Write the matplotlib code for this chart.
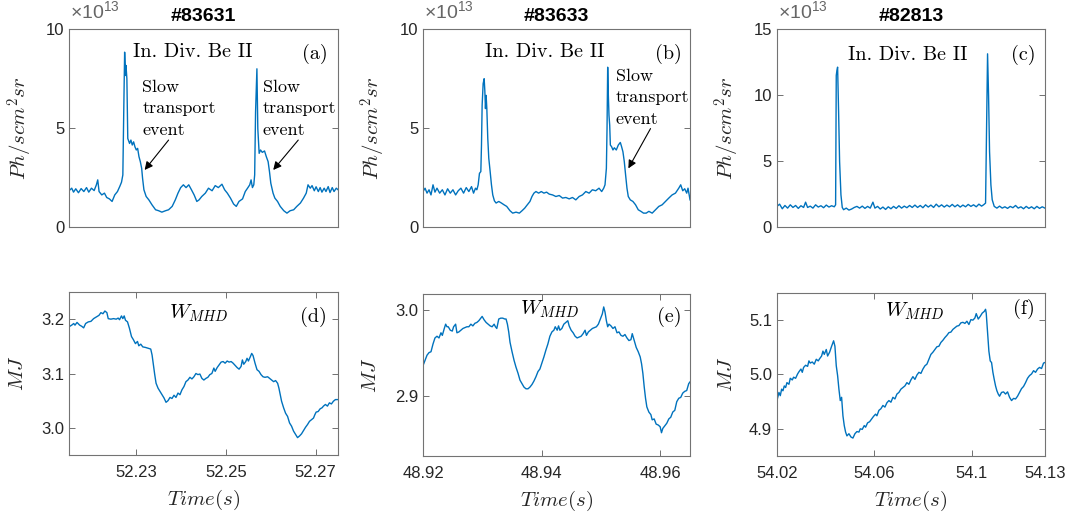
import numpy as np
import matplotlib
matplotlib.use('Agg')
import matplotlib.pyplot as plt

plt.rcParams['font.family'] = ['Liberation Sans', 'DejaVu Sans']
plt.rcParams['mathtext.fontset'] = 'cm'
plt.rcParams['mathtext.rm'] = 'Liberation Sans'
plt.rcParams['mathtext.it'] = 'Liberation Sans:italic'

BLUE = '#0072BD'
DARK = '#262626'

shots = ['#83631', '#83633', '#82813']

# ---- In. Div. Be II, units of 1e13 Ph/scm^2sr ----
t_a = [52.2150, 52.2156, 52.2160, 52.2165, 52.2171, 52.2177, 52.2183, 52.2189, 52.2194, 52.2200,
       52.2206, 52.2211, 52.2214, 52.2217, 52.2223, 52.2229, 52.2234, 52.2240, 52.2246, 52.2252,
       52.2258, 52.2263, 52.2267, 52.2270, 52.2272, 52.2274, 52.2276, 52.2277, 52.2279, 52.2281,
       52.2285, 52.2288, 52.2291, 52.2294, 52.2297, 52.2300, 52.2303, 52.2306, 52.2309, 52.2312,
       52.2314, 52.2317, 52.2322, 52.2328, 52.2335, 52.2343, 52.2350, 52.2357, 52.2365, 52.2372,
       52.2380, 52.2387, 52.2393, 52.2399, 52.2405, 52.2411, 52.2417, 52.2423, 52.2429, 52.2435,
       52.2440, 52.2446, 52.2454, 52.2461, 52.2469, 52.2476, 52.2483, 52.2491, 52.2497, 52.2503,
       52.2510, 52.2517, 52.2523, 52.2529, 52.2537, 52.2543, 52.2549, 52.2553, 52.2556, 52.2559,
       52.2562, 52.2564, 52.2566, 52.2569, 52.2571, 52.2574, 52.2577, 52.2581, 52.2586, 52.2590,
       52.2594, 52.2597, 52.2600, 52.2605, 52.2609, 52.2615, 52.2621, 52.2629, 52.2636, 52.2643,
       52.2651, 52.2658, 52.2666, 52.2673, 52.2679, 52.2683, 52.2688, 52.2692, 52.2697, 52.2701,
       52.2706, 52.2710, 52.2714, 52.2719, 52.2723, 52.2728, 52.2732, 52.2737, 52.2741, 52.2746,
       52.2750]
be_a = [1.83, 1.96, 1.76, 1.93, 1.73, 1.94, 1.79, 1.99, 1.76, 1.96,
        1.84, 2.13, 2.38, 1.79, 1.62, 1.71, 1.49, 1.42, 1.29, 1.62,
        1.79, 2.04, 2.26, 2.63, 5.81, 8.83, 7.65, 8.16, 7.49, 4.47,
        4.22, 4.39, 4.14, 4.30, 4.05, 3.89, 3.97, 3.55, 3.30, 2.96,
        2.46, 1.88, 1.54, 1.37, 1.12, 0.87, 0.82, 0.75, 0.82, 0.87,
        1.04, 1.37, 1.71, 1.99, 2.13, 1.99, 2.13, 1.88, 1.62, 1.29,
        1.37, 1.54, 1.71, 1.96, 1.83, 2.09, 1.99, 2.16, 1.88, 1.71,
        1.46, 1.16, 1.04, 1.29, 1.42, 1.79, 1.99, 2.13, 2.38, 1.99,
        2.13, 2.63, 5.81, 7.99, 4.97, 3.72, 3.89, 3.77, 3.84, 3.55,
        3.30, 2.80, 2.21, 1.71, 1.46, 1.29, 1.04, 0.82, 0.70, 0.82,
        0.87, 1.04, 1.21, 1.46, 1.71, 2.13, 1.96, 2.09, 1.83, 2.03,
        1.79, 1.99, 1.76, 1.96, 1.79, 2.04, 1.74, 1.99, 1.79, 1.96,
        1.88]

t_b = [48.92000, 48.92034, 48.92067, 48.92101, 48.92134, 48.92168, 48.92201, 48.92235, 48.92280, 48.92325,
       48.92369, 48.92414, 48.92459, 48.92504, 48.92549, 48.92593, 48.92638, 48.92683, 48.92728, 48.92772,
       48.92817, 48.92851, 48.92884, 48.92907, 48.92929, 48.92951, 48.92974, 48.92985, 48.92996, 48.93013,
       48.93030, 48.93041, 48.93052, 48.93063, 48.93075, 48.93091, 48.93108, 48.93131, 48.93153, 48.93175,
       48.93203, 48.93231, 48.93276, 48.93321, 48.93366, 48.93410, 48.93466, 48.93511, 48.93567, 48.93623,
       48.93668, 48.93713, 48.93757, 48.93802, 48.93836, 48.93869, 48.93903, 48.93948, 48.93993, 48.94037,
       48.94082, 48.94127, 48.94183, 48.94239, 48.94295, 48.94351, 48.94407, 48.94463, 48.94519, 48.94575,
       48.94631, 48.94687, 48.94743, 48.94799, 48.94854, 48.94910, 48.94966, 48.95011, 48.95045, 48.95067,
       48.95090, 48.95101, 48.95112, 48.95123, 48.95134, 48.95146, 48.95157, 48.95179, 48.95201, 48.95224,
       48.95257, 48.95291, 48.95325, 48.95347, 48.95369, 48.95392, 48.95414, 48.95437, 48.95459, 48.95493,
       48.95537, 48.95582, 48.95627, 48.95672, 48.95716, 48.95761, 48.95806, 48.95862, 48.95918, 48.95974,
       48.96030, 48.96086, 48.96142, 48.96198, 48.96254, 48.96310, 48.96343, 48.96377, 48.96410, 48.96444,
       48.96466, 48.96500]
be_b = [1.79, 1.96, 1.71, 1.88, 1.62, 2.13, 1.76, 1.96, 1.71, 1.88,
        1.62, 1.93, 1.71, 1.88, 1.62, 1.83, 1.96, 1.71, 1.99, 1.79,
        2.04, 1.71, 1.96, 1.88, 2.13, 2.71, 2.80, 4.14, 6.15, 7.24,
        7.49, 6.90, 5.98, 6.65, 5.98, 4.47, 3.47, 2.80, 2.13, 1.62,
        1.32, 1.21, 1.29, 1.21, 1.12, 1.04, 0.82, 0.70, 0.75, 0.70,
        0.82, 0.95, 1.12, 1.29, 1.54, 1.71, 1.79, 1.71, 1.79, 1.71,
        1.76, 1.66, 1.62, 1.54, 1.59, 1.46, 1.49, 1.42, 1.49, 1.37,
        1.54, 1.62, 1.79, 1.71, 1.88, 1.83, 1.96, 1.79, 1.96, 2.13,
        2.96, 4.97, 8.07, 6.65, 5.64, 5.14, 4.14, 4.05, 3.89, 4.00,
        3.89, 4.14, 4.27, 4.05, 3.80, 3.30, 2.63, 1.96, 1.54, 1.37,
        1.29, 1.12, 0.87, 0.79, 0.70, 0.70, 0.79, 0.70, 0.87, 1.04,
        1.12, 1.29, 1.46, 1.62, 1.71, 1.96, 2.13, 1.83, 1.93, 1.71,
        1.96, 1.37]

t_c = [54.02000, 54.02109, 54.02219, 54.02328, 54.02438, 54.02547, 54.02657, 54.02766, 54.02876, 54.02985,
       54.03094, 54.03176, 54.03259, 54.03368, 54.03477, 54.03587, 54.03696, 54.03806, 54.03915, 54.04025,
       54.04134, 54.04244, 54.04353, 54.04408, 54.04435, 54.04462, 54.04490, 54.04531, 54.04572, 54.04627,
       54.04681, 54.04736, 54.04845, 54.04955, 54.05064, 54.05174, 54.05283, 54.05393, 54.05502, 54.05612,
       54.05721, 54.05830, 54.05940, 54.06022, 54.06131, 54.06241, 54.06350, 54.06460, 54.06569, 54.06679,
       54.06788, 54.06897, 54.07007, 54.07116, 54.07226, 54.07335, 54.07445, 54.07554, 54.07664, 54.07773,
       54.07882, 54.07992, 54.08101, 54.08211, 54.08320, 54.08430, 54.08539, 54.08649, 54.08758, 54.08867,
       54.08977, 54.09086, 54.09196, 54.09305, 54.09415, 54.09524, 54.09634, 54.09743, 54.09852, 54.09962,
       54.10071, 54.10181, 54.10290, 54.10400, 54.10482, 54.10564, 54.10605, 54.10646, 54.10687, 54.10728,
       54.10783, 54.10837, 54.10920, 54.11029, 54.11138, 54.11248, 54.11357, 54.11467, 54.11576, 54.11686,
       54.11795, 54.11904, 54.12014, 54.12123, 54.12233, 54.12342, 54.12452, 54.12561, 54.12670, 54.12780,
       54.12889, 54.12999]
be_c = [1.56, 1.73, 1.38, 1.63, 1.43, 1.68, 1.48, 1.63, 1.41, 1.61,
        1.48, 1.88, 1.48, 1.58, 1.43, 1.68, 1.51, 1.61, 1.46, 1.66,
        1.51, 1.61, 1.53, 1.68, 11.48, 11.86, 12.11, 8.72, 4.95, 2.44,
        1.48, 1.31, 1.43, 1.28, 1.36, 1.48, 1.56, 1.43, 1.58, 1.41,
        1.56, 1.43, 1.88, 1.43, 1.56, 1.36, 1.51, 1.33, 1.53, 1.38,
        1.56, 1.41, 1.61, 1.43, 1.58, 1.46, 1.63, 1.48, 1.66, 1.48,
        1.63, 1.46, 1.68, 1.51, 1.66, 1.48, 1.73, 1.53, 1.68, 1.51,
        1.66, 1.53, 1.71, 1.53, 1.68, 1.51, 1.66, 1.53, 1.71, 1.56,
        1.68, 1.53, 1.73, 1.58, 1.68, 1.81, 7.46, 13.12, 9.97, 5.70,
        3.19, 2.06, 1.56, 1.43, 1.58, 1.43, 1.53, 1.41, 1.56, 1.46,
        1.63, 1.43, 1.53, 1.38, 1.56, 1.41, 1.53, 1.38, 1.56, 1.41,
        1.53, 1.43]

# ---- W_MHD, MJ ----
t_d = [52.21500, 52.21559, 52.21604, 52.21633, 52.21678, 52.21737, 52.21781, 52.21826, 52.21870, 52.21930,
       52.21989, 52.22048, 52.22107, 52.22167, 52.22211, 52.22256, 52.22300, 52.22344, 52.22374, 52.22433,
       52.22493, 52.22552, 52.22596, 52.22626, 52.22670, 52.22700, 52.22730, 52.22759, 52.22804, 52.22848,
       52.22893, 52.22937, 52.22981, 52.23026, 52.23056, 52.23100, 52.23144, 52.23204, 52.23278, 52.23322,
       52.23352, 52.23381, 52.23411, 52.23441, 52.23485, 52.23530, 52.23574, 52.23618, 52.23663, 52.23707,
       52.23752, 52.23796, 52.23841, 52.23885, 52.23930, 52.23974, 52.24018, 52.24063, 52.24107, 52.24152,
       52.24196, 52.24241, 52.24285, 52.24330, 52.24374, 52.24418, 52.24463, 52.24507, 52.24552, 52.24596,
       52.24641, 52.24685, 52.24730, 52.24759, 52.24804, 52.24848, 52.24892, 52.24937, 52.24981, 52.25026,
       52.25070, 52.25115, 52.25159, 52.25204, 52.25248, 52.25292, 52.25337, 52.25366, 52.25396, 52.25441,
       52.25470, 52.25500, 52.25544, 52.25574, 52.25604, 52.25648, 52.25692, 52.25737, 52.25781, 52.25826,
       52.25870, 52.25929, 52.25974, 52.26018, 52.26063, 52.26107, 52.26152, 52.26181, 52.26211, 52.26240,
       52.26285, 52.26329, 52.26374, 52.26418, 52.26463, 52.26507, 52.26551, 52.26596, 52.26640, 52.26685,
       52.26729, 52.26774, 52.26818, 52.26863, 52.26907, 52.26952, 52.26981, 52.27011, 52.27055, 52.27100,
       52.27144, 52.27174, 52.27218, 52.27263, 52.27307, 52.27352, 52.27396, 52.27441, 52.27500]
w_d = [3.186, 3.189, 3.192, 3.189, 3.194, 3.189, 3.187, 3.184, 3.192, 3.195,
       3.196, 3.201, 3.204, 3.207, 3.212, 3.210, 3.215, 3.212, 3.201, 3.200,
       3.201, 3.200, 3.202, 3.199, 3.206, 3.201, 3.206, 3.198, 3.195, 3.183,
       3.168, 3.162, 3.155, 3.159, 3.151, 3.154, 3.149, 3.148, 3.146, 3.145,
       3.134, 3.116, 3.098, 3.082, 3.073, 3.067, 3.061, 3.055, 3.047, 3.050,
       3.056, 3.054, 3.060, 3.056, 3.064, 3.061, 3.070, 3.076, 3.085, 3.088,
       3.093, 3.090, 3.094, 3.100, 3.098, 3.099, 3.091, 3.088, 3.091, 3.093,
       3.098, 3.100, 3.110, 3.104, 3.111, 3.116, 3.121, 3.122, 3.119, 3.123,
       3.121, 3.122, 3.119, 3.115, 3.111, 3.108, 3.113, 3.125, 3.117, 3.122,
       3.128, 3.123, 3.131, 3.137, 3.133, 3.119, 3.107, 3.104, 3.098, 3.094,
       3.093, 3.094, 3.091, 3.088, 3.085, 3.087, 3.082, 3.073, 3.061, 3.049,
       3.037, 3.027, 3.021, 3.009, 3.003, 2.994, 2.988, 2.982, 2.985, 2.989,
       2.995, 3.001, 3.006, 3.012, 3.015, 3.018, 3.024, 3.029, 3.030, 3.035,
       3.037, 3.040, 3.043, 3.040, 3.046, 3.044, 3.049, 3.052, 3.052]

t_e = [48.92000, 48.92034, 48.92067, 48.92101, 48.92134, 48.92168, 48.92201, 48.92235, 48.92269, 48.92302,
       48.92325, 48.92358, 48.92381, 48.92403, 48.92425, 48.92459, 48.92493, 48.92515, 48.92549, 48.92571,
       48.92604, 48.92638, 48.92672, 48.92705, 48.92739, 48.92772, 48.92806, 48.92840, 48.92873, 48.92907,
       48.92940, 48.92974, 48.92996, 48.93030, 48.93063, 48.93097, 48.93131, 48.93164, 48.93198, 48.93220,
       48.93243, 48.93276, 48.93310, 48.93343, 48.93377, 48.93399, 48.93422, 48.93444, 48.93466, 48.93500,
       48.93534, 48.93567, 48.93601, 48.93634, 48.93668, 48.93701, 48.93735, 48.93769, 48.93802, 48.93836,
       48.93869, 48.93903, 48.93937, 48.93970, 48.94004, 48.94037, 48.94071, 48.94104, 48.94138, 48.94172,
       48.94205, 48.94228, 48.94261, 48.94284, 48.94306, 48.94340, 48.94373, 48.94407, 48.94440, 48.94463,
       48.94496, 48.94530, 48.94563, 48.94597, 48.94631, 48.94664, 48.94698, 48.94731, 48.94754, 48.94787,
       48.94821, 48.94854, 48.94888, 48.94922, 48.94955, 48.94989, 48.95022, 48.95045, 48.95067, 48.95090,
       48.95112, 48.95134, 48.95168, 48.95201, 48.95235, 48.95269, 48.95302, 48.95336, 48.95369, 48.95403,
       48.95437, 48.95470, 48.95504, 48.95526, 48.95560, 48.95593, 48.95627, 48.95660, 48.95683, 48.95705,
       48.95728, 48.95750, 48.95772, 48.95806, 48.95840, 48.95862, 48.95896, 48.95929, 48.95963, 48.95996,
       48.96019, 48.96041, 48.96075, 48.96108, 48.96142, 48.96175, 48.96209, 48.96243, 48.96276, 48.96310,
       48.96343, 48.96377, 48.96410, 48.96444, 48.96478, 48.96500]
w_e = [2.935, 2.941, 2.947, 2.950, 2.951, 2.960, 2.967, 2.969, 2.967, 2.973,
       2.970, 2.978, 2.983, 2.980, 2.980, 2.976, 2.975, 2.980, 2.983, 2.973,
       2.974, 2.976, 2.978, 2.979, 2.980, 2.980, 2.983, 2.981, 2.984, 2.985,
       2.987, 2.990, 2.992, 2.988, 2.985, 2.983, 2.981, 2.980, 2.983, 2.980,
       2.978, 2.989, 2.990, 2.990, 2.989, 2.989, 2.983, 2.974, 2.962, 2.951,
       2.941, 2.933, 2.926, 2.918, 2.914, 2.910, 2.908, 2.908, 2.910, 2.913,
       2.917, 2.922, 2.928, 2.931, 2.938, 2.945, 2.953, 2.960, 2.969, 2.974,
       2.976, 2.980, 2.976, 2.981, 2.976, 2.978, 2.983, 2.985, 2.987, 2.981,
       2.976, 2.973, 2.969, 2.967, 2.968, 2.969, 2.972, 2.976, 2.970, 2.974,
       2.976, 2.978, 2.979, 2.980, 2.983, 2.989, 2.995, 3.003, 2.997, 2.987,
       2.980, 2.983, 2.981, 2.978, 2.980, 2.973, 2.974, 2.970, 2.969, 2.971,
       2.967, 2.964, 2.965, 2.972, 2.964, 2.956, 2.951, 2.945, 2.937, 2.926,
       2.910, 2.897, 2.887, 2.881, 2.878, 2.872, 2.873, 2.867, 2.866, 2.864,
       2.857, 2.862, 2.865, 2.868, 2.873, 2.875, 2.881, 2.883, 2.893, 2.897,
       2.898, 2.903, 2.905, 2.906, 2.914, 2.916]

t_f = [54.02000, 54.02082, 54.02137, 54.02192, 54.02246, 54.02301, 54.02356, 54.02410, 54.02492, 54.02547,
       54.02629, 54.02684, 54.02766, 54.02848, 54.02903, 54.02985, 54.03040, 54.03094, 54.03176, 54.03259,
       54.03313, 54.03368, 54.03450, 54.03532, 54.03614, 54.03696, 54.03751, 54.03833, 54.03888, 54.03943,
       54.04025, 54.04079, 54.04161, 54.04244, 54.04326, 54.04380, 54.04435, 54.04490, 54.04544, 54.04599,
       54.04654, 54.04709, 54.04763, 54.04818, 54.04873, 54.04955, 54.05037, 54.05119, 54.05201, 54.05283,
       54.05365, 54.05420, 54.05502, 54.05584, 54.05639, 54.05721, 54.05803, 54.05885, 54.05967, 54.06049,
       54.06104, 54.06186, 54.06268, 54.06350, 54.06432, 54.06514, 54.06596, 54.06679, 54.06761, 54.06843,
       54.06925, 54.07007, 54.07089, 54.07171, 54.07253, 54.07335, 54.07417, 54.07499, 54.07581, 54.07664,
       54.07746, 54.07828, 54.07910, 54.07992, 54.08074, 54.08156, 54.08238, 54.08320, 54.08402, 54.08484,
       54.08566, 54.08649, 54.08731, 54.08813, 54.08895, 54.08977, 54.09059, 54.09141, 54.09223, 54.09305,
       54.09387, 54.09469, 54.09551, 54.09634, 54.09716, 54.09798, 54.09880, 54.09962, 54.10044, 54.10126,
       54.10181, 54.10263, 54.10345, 54.10427, 54.10509, 54.10564, 54.10591, 54.10646, 54.10700, 54.10755,
       54.10810, 54.10865, 54.10919, 54.10974, 54.11029, 54.11084, 54.11138, 54.11220, 54.11302, 54.11384,
       54.11467, 54.11549, 54.11631, 54.11713, 54.11795, 54.11877, 54.11959, 54.12041, 54.12123, 54.12205,
       54.12287, 54.12369, 54.12452, 54.12534, 54.12616, 54.12698, 54.12780, 54.12862, 54.12944, 54.12999]
w_f = [4.952, 4.967, 4.961, 4.973, 4.970, 4.979, 4.976, 4.985, 4.982, 4.993,
       4.990, 4.995, 4.993, 5.001, 5.005, 5.010, 5.004, 5.013, 5.017, 5.015,
       5.025, 5.021, 5.023, 5.019, 5.028, 5.025, 5.029, 5.034, 5.043, 5.037,
       5.046, 5.034, 5.041, 5.052, 5.062, 5.052, 5.016, 4.998, 4.973, 4.952,
       4.958, 4.924, 4.906, 4.894, 4.887, 4.891, 4.885, 4.883, 4.891, 4.895,
       4.894, 4.900, 4.899, 4.906, 4.903, 4.911, 4.913, 4.918, 4.923, 4.927,
       4.924, 4.934, 4.937, 4.943, 4.940, 4.948, 4.952, 4.949, 4.958, 4.955,
       4.964, 4.967, 4.973, 4.976, 4.979, 4.985, 4.982, 4.990, 4.996, 4.991,
       4.999, 5.004, 5.002, 5.010, 5.016, 5.019, 5.028, 5.037, 5.041, 5.046,
       5.051, 5.052, 5.059, 5.063, 5.068, 5.072, 5.077, 5.078, 5.083, 5.086,
       5.089, 5.090, 5.095, 5.096, 5.094, 5.098, 5.092, 5.101, 5.100, 5.104,
       5.112, 5.102, 5.107, 5.113, 5.116, 5.120, 5.113, 5.077, 5.043, 5.025,
       5.022, 5.004, 4.991, 4.979, 4.970, 4.964, 4.960, 4.967, 4.968, 4.964,
       4.968, 4.958, 4.952, 4.956, 4.955, 4.960, 4.967, 4.974, 4.978, 4.985,
       4.993, 4.998, 5.001, 5.007, 5.004, 5.010, 5.013, 5.011, 5.021, 5.022]

xlims = [(52.215, 52.275), (48.92, 48.965), (54.02, 54.13)]
xticks = [[52.23, 52.25, 52.27], [48.92, 48.94, 48.96], [54.02, 54.06, 54.10, 54.13]]
xticklabels = [['52.23', '52.25', '52.27'], ['48.92', '48.94', '48.96'],
               ['54.02', '54.06', '54.1', '54.13']]
be_ylims = [(0, 10), (0, 10), (0, 15)]
be_yticks = [[0, 5, 10], [0, 5, 10], [0, 5, 10, 15]]
w_ylims = [(2.95, 3.25), (2.83, 3.018), (4.85, 5.15)]
w_yticks = [[3.0, 3.1, 3.2], [2.9, 3.0], [4.9, 5.0, 5.1]]

top_data = [(t_a, be_a), (t_b, be_b), (t_c, be_c)]
bot_data = [(t_d, w_d), (t_e, w_e), (t_f, w_f)]


def style(ax):
    ax.tick_params(direction='in', top=True, right=True, length=4, width=0.6,
                   colors='0.35', labelcolor=DARK, labelsize=12)
    for s in ax.spines.values():
        s.set_color('0.45')
        s.set_linewidth(0.8)


fig = plt.figure(figsize=(10.77, 5.18), dpi=100)

top_pos = [[0.0641, 0.5618, 0.2498, 0.3822], [0.3928, 0.5618, 0.2479, 0.3822],
           [0.7214, 0.5618, 0.2488, 0.3822]]
bot_pos = [[0.0641, 0.1216, 0.2498, 0.3147], [0.3928, 0.1197, 0.2479, 0.3127],
           [0.7214, 0.1197, 0.2488, 0.3147]]

be_label_x = [-0.128, -0.133, -0.129]
w_label_x = [-0.158, -0.160, -0.152]
be_txt_pos = [(0.46, 0.883), (0.457, 0.883), (0.49, 0.869)]
tag_top_pos = [(0.963, 0.874), (0.970, 0.874), (0.964, 0.869)]
w_txt_pos = [(0.484, 0.868), (0.475, 0.908), (0.516, 0.888)]
tag_bot_pos = [(0.957, 0.848), (0.968, 0.857), (0.961, 0.902)]

for i in range(3):
    # upper row: Be II emission
    ax = fig.add_axes(top_pos[i])
    t, v = top_data[i]
    ax.plot(t, v, color=BLUE, lw=1.0)
    ax.set_xlim(xlims[i])
    ax.set_ylim(be_ylims[i])
    ax.set_yticks(be_yticks[i])
    ax.set_xticks([])
    style(ax)
    ax.set_title(shots[i], fontsize=14, fontweight='bold', pad=6)
    ax.set_ylabel(r'$Ph/scm^2sr$', fontsize=15, color=DARK)
    ax.yaxis.set_label_coords(be_label_x[i], 0.5)
    ax.text(0.005, 1.055, u'\u00d710$^{13}$', transform=ax.transAxes, ha='left',
            va='baseline', fontsize=14, color='0.4', math_fontfamily='custom')
    ax.text(*be_txt_pos[i], 'In. Div. Be II', transform=ax.transAxes, ha='center',
            va='center', fontsize=14.5, fontfamily='cmr10', color='k')
    ax.text(*tag_top_pos[i], '(%s)' % 'abc'[i], transform=ax.transAxes, ha='right',
            va='center', fontsize=14.5, fontfamily='cmr10', color='k')

    if i == 0:
        ev_text = [(0.272, 0.745), (0.72, 0.745)]
        ev_arrow = [((0.370, 0.439), (0.281, 0.288)), ((0.852, 0.439), (0.759, 0.288))]
    elif i == 1:
        ev_text = [(0.721, 0.80)]
        ev_arrow = [((0.852, 0.497), (0.769, 0.296))]
    else:
        ev_text, ev_arrow = [], []
    for (x, y) in ev_text:
        ax.text(x, y, 'Slow\ntransport\nevent', transform=ax.transAxes, ha='left',
                va='top', fontsize=13, fontfamily='cmr10', linespacing=1.5)
    for tail, tip in ev_arrow:
        ax.annotate('', xy=tip, xytext=tail, xycoords='axes fraction',
                    arrowprops=dict(arrowstyle='-|>', color='k', lw=0.8,
                                    mutation_scale=12, shrinkA=0, shrinkB=0))

    # lower row: stored energy
    ax = fig.add_axes(bot_pos[i])
    t, w = bot_data[i]
    ax.plot(t, w, color=BLUE, lw=1.0)
    ax.set_xlim(xlims[i])
    ax.set_ylim(w_ylims[i])
    ax.set_yticks(w_yticks[i])
    ax.set_yticklabels(['%.1f' % y for y in w_yticks[i]])
    ax.set_xticks(xticks[i])
    ax.set_xticklabels(xticklabels[i])
    style(ax)
    ax.tick_params(axis='x', pad=7)
    ax.set_ylabel(r'$MJ$', fontsize=15, color=DARK)
    ax.yaxis.set_label_coords(w_label_x[i], 0.5)
    ax.set_xlabel(r'$Time(s)$', fontsize=15, color=DARK)
    ax.xaxis.set_label_coords(0.5, -0.20)
    ax.xaxis.label.set_va('top')
    ax.text(*w_txt_pos[i], r'$W_{MHD}$', transform=ax.transAxes, ha='center',
            va='center', fontsize=15, color='k')
    ax.text(*tag_bot_pos[i], '(%s)' % 'def'[i], transform=ax.transAxes, ha='right',
            va='center', fontsize=14.5, fontfamily='cmr10', color='k')

fig.savefig('out.png', dpi=100)
